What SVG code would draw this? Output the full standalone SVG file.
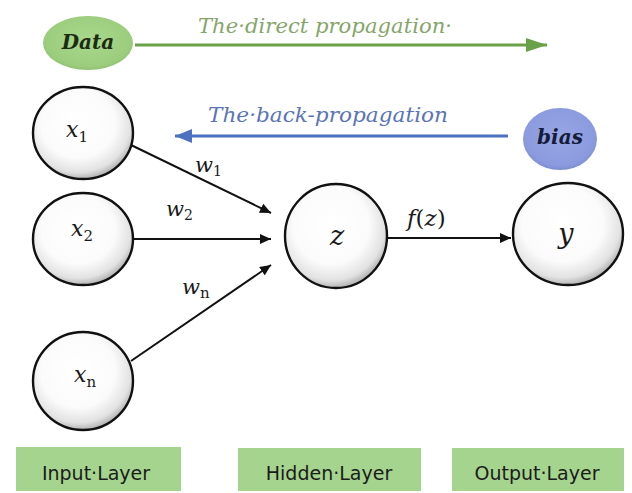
<svg xmlns="http://www.w3.org/2000/svg" width="632" height="493" viewBox="0 0 632 493">
  <defs>
    <radialGradient id="sphere" cx="0.45" cy="0.4" r="0.62">
      <stop offset="0" stop-color="#ffffff"/>
      <stop offset="0.6" stop-color="#fbfbfb"/>
      <stop offset="0.85" stop-color="#e2e2e2"/>
      <stop offset="1" stop-color="#a8a8a8"/>
    </radialGradient>
    <radialGradient id="greenFill" cx="0.5" cy="0.45" r="0.6">
      <stop offset="0" stop-color="#a9d88c"/>
      <stop offset="0.8" stop-color="#9ccd7d"/>
      <stop offset="1" stop-color="#86b86a"/>
    </radialGradient>
    <radialGradient id="blueFill" cx="0.5" cy="0.45" r="0.6">
      <stop offset="0" stop-color="#98a6e6"/>
      <stop offset="0.8" stop-color="#8b9ade"/>
      <stop offset="1" stop-color="#7383c8"/>
    </radialGradient>
    <marker id="arrowBlack" markerUnits="userSpaceOnUse" markerWidth="12" markerHeight="10" refX="11" refY="5" orient="auto">
      <path d="M0,0 L11,5 L0,10 Z" fill="#111"/>
    </marker>
    <marker id="arrowGreen" markerUnits="userSpaceOnUse" markerWidth="22" markerHeight="16" refX="21" refY="8" orient="auto">
      <path d="M0,1 L21,8 L0,15 Z" fill="#6aa146"/>
    </marker>
    <marker id="arrowBlue" markerUnits="userSpaceOnUse" markerWidth="18" markerHeight="16" refX="17" refY="8" orient="auto">
      <path d="M0,1 L17,8 L0,15 Z" fill="#4a72c0"/>
    </marker>
  </defs>
  <style>
    .neuron { fill: url(#sphere); stroke: #111; stroke-width: 2.4; }
    .math { font-family: "DejaVu Serif", "Liberation Serif", serif; font-style: italic; fill: #1a1a1a; }
    .sub { font-family: "DejaVu Serif", "Liberation Serif", serif; font-style: normal; fill: #1a1a1a; }
    .tag { font-family: "DejaVu Serif", "Liberation Serif", serif; font-style: italic; font-weight: bold; font-size: 20px; }
    .flow { font-family: "DejaVu Serif", "Liberation Serif", serif; font-style: italic; font-size: 21px; }
    .layer rect { fill: #a5d48e; }
    .layer text { font-family: "DejaVu Sans", "Liberation Sans", sans-serif; font-size: 19px; fill: #1b1b1b; text-anchor: middle; }
    .edge { stroke: #111; stroke-width: 2; fill: none; marker-end: url(#arrowBlack); }
  </style>

  <rect width="632" height="493" fill="#ffffff"/>

  <!-- propagation direction arrows -->
  <g id="flow-arrows">
    <line x1="135" y1="45" x2="547" y2="45" stroke="#6aa146" stroke-width="3" marker-end="url(#arrowGreen)"/>
    <line x1="508" y1="136" x2="175" y2="136" stroke="#4a72c0" stroke-width="3" marker-end="url(#arrowBlue)"/>
    <text class="flow" x="198" y="33" fill="#86a56a" textLength="254" lengthAdjust="spacingAndGlyphs">The·direct propagation·</text>
    <text class="flow" x="208" y="122" fill="#5a74b6" textLength="240" lengthAdjust="spacingAndGlyphs">The·back-propagation</text>
  </g>

  <g id="data">
    <ellipse cx="88" cy="43" rx="45" ry="27" fill="url(#greenFill)"/>
    <text class="tag" x="88" y="49" text-anchor="middle" fill="#1d2a14">Data</text>
  </g>

  <g id="bias">
    <ellipse cx="560" cy="139" rx="37" ry="31" fill="url(#blueFill)"/>
    <text class="tag" x="560" y="144" text-anchor="middle" fill="#141c3a">bias</text>
  </g>

  <!-- weighted connections into the hidden unit -->
  <g id="connectors">
    <line class="edge" x1="131" y1="145" x2="271" y2="213"/>
    <line class="edge" x1="133" y1="239" x2="271" y2="239"/>
    <line class="edge" x1="131" y1="361" x2="271" y2="265"/>
    <line class="edge" x1="388" y1="238" x2="511" y2="238"/>
    <text class="math" x="195" y="172" font-size="21">w<tspan class="sub" font-size="14" dy="4">1</tspan></text>
    <text class="math" x="166" y="216" font-size="21">w<tspan class="sub" font-size="14" dy="4">2</tspan></text>
    <text class="math" x="182" y="294" font-size="21">w<tspan font-size="15" font-style="normal" dy="4">n</tspan></text>
    <text class="math" x="407" y="226" font-size="23">f<tspan font-style="normal">(</tspan>z<tspan font-style="normal">)</tspan></text>
  </g>

  <g id="x1">
    <ellipse class="neuron" cx="83" cy="133" rx="50" ry="46"/>
    <text class="math" x="66" y="137" font-size="22">x<tspan class="sub" font-size="15" dy="5">1</tspan></text>
  </g>
  <g id="x2">
    <ellipse class="neuron" cx="83" cy="239" rx="50" ry="46"/>
    <text class="math" x="71" y="236" font-size="22">x<tspan class="sub" font-size="15" dy="5">2</tspan></text>
  </g>
  <g id="xn">
    <ellipse class="neuron" cx="83" cy="381" rx="50" ry="49"/>
    <text class="math" x="74" y="382" font-size="22">x<tspan class="sub" font-size="15" dy="5">n</tspan></text>
  </g>
  <g id="z">
    <ellipse class="neuron" cx="336" cy="236" rx="51" ry="52"/>
    <text class="math" x="337" y="245" font-size="27" text-anchor="middle">z</text>
  </g>
  <g id="y">
    <ellipse class="neuron" cx="568" cy="234" rx="55" ry="51"/>
    <text class="math" x="566" y="243" font-size="27" text-anchor="middle">y</text>
  </g>

  <g id="input-layer" class="layer">
    <rect x="16" y="447" width="165" height="44"/>
    <text x="96" y="480">Input·Layer</text>
  </g>
  <g id="hidden-layer" class="layer">
    <rect x="238" y="448" width="183" height="43"/>
    <text x="329" y="480">Hidden·Layer</text>
  </g>
  <g id="output-layer" class="layer">
    <rect x="452" y="448" width="172" height="43"/>
    <text x="537" y="480">Output·Layer</text>
  </g>
</svg>
